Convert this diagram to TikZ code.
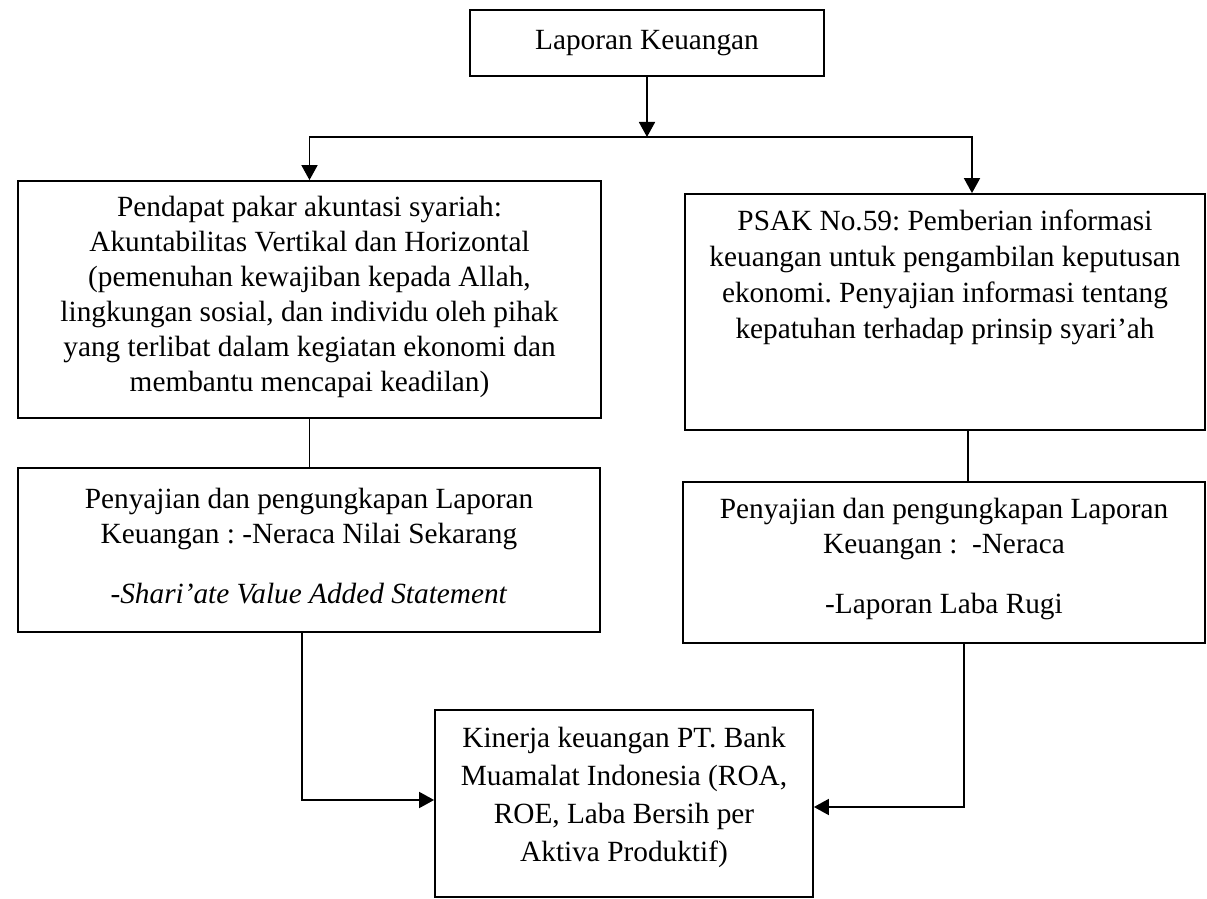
\documentclass[tikz,border=0pt]{standalone}
\usepackage{fontspec}
\setmainfont{Liberation Serif}
\usetikzlibrary{arrows.meta}
\frenchspacing
% box with text hanging from the top: height, width, top gap, text
\newcommand{\isikotak}[4]{\parbox[c][#1][t]{#2}{\centering\vspace*{#3}#4\par}}

\begin{document}
\begin{tikzpicture}[x=0.5pt, y=-0.5pt,
    kotak/.style={draw, line width=0.9pt, inner sep=0pt},
    garis/.style={line width=0.9pt},
    panah/.style={line width=0.9pt, -{Triangle[width=8pt,length=7.5pt]}},
    every node/.style={font=\fontsize{14.65pt}{17.5pt}\selectfont}]
    \useasboundingbox (0,0) rectangle (1207,899);

    % Top box.
    \node[kotak, minimum width=177pt, minimum height=33pt] (lapkeu) at (647,43)
      {Laporan Keuangan};

    % Two views.
    \node[kotak] (pakar) at (309.5,299.5)
      {\isikotak{118.5pt}{291.5pt}{7.5pt}{Pendapat pakar akuntasi syariah:\\
        Akuntabilitas Vertikal dan Horizontal\\
        (pemenuhan kewajiban kepada Allah,\\
        lingkungan sosial, dan individu oleh pihak\\
        yang terlibat dalam kegiatan ekonomi dan\\
        membantu mencapai keadilan)}};
    \node[kotak] (psak) at (945,312)
      {\isikotak{118pt}{260pt}{8pt}{\setlength{\baselineskip}{18pt}%
        PSAK No.59: Pemberian informasi\\
        keuangan untuk pengambilan keputusan\\
        ekonomi. Penyajian informasi tentang\\
        kepatuhan terhadap prinsip syari’ah}};

    % Statements.
    \node[kotak] (sajikiri) at (309,550)
      {\isikotak{82pt}{291pt}{10pt}{Penyajian dan pengungkapan Laporan\\
        Keuangan : -Neraca Nilai Sekarang\\[12.5pt]
        \textit{-Shari’ate Value Added Statement}}};
    \node[kotak] (sajikanan) at (944,562.5)
      {\isikotak{80.5pt}{261pt}{8pt}{Penyajian dan pengungkapan Laporan\\
        Keuangan :\ \ -Neraca\\[12.5pt]
        -Laporan Laba Rugi}};

    % Result.
    \node[kotak] (kinerja) at (624,803.5)
      {\isikotak{93.5pt}{189pt}{8.5pt}{\setlength{\baselineskip}{19pt}%
        Kinerja keuangan PT. Bank\\
        Muamalat Indonesia (ROA,\\
        ROE, Laba Bersih per\\
        Aktiva Produktif)}};

    % Connectors.
    \coordinate (cabang) at (647,137);
    \draw[panah] (lapkeu.south) -- (cabang);
    \draw[panah] (cabang) -| (pakar.north);
    \draw[panah] (cabang) -| ([xshift=13.5pt]psak.north);
    \draw[garis] (pakar.south) -- (pakar.south |- sajikiri.north);
    \draw[garis] ([xshift=11.5pt]psak.south) -- ([xshift=11.5pt]psak.south |- sajikanan.north);
    \draw[panah] ([xshift=-3.5pt]sajikiri.south) |- ([yshift=1.75pt]kinerja.west);
    \draw[panah] ([xshift=10pt]sajikanan.south) |- ([yshift=-1.75pt]kinerja.east);
\end{tikzpicture}
\end{document}
